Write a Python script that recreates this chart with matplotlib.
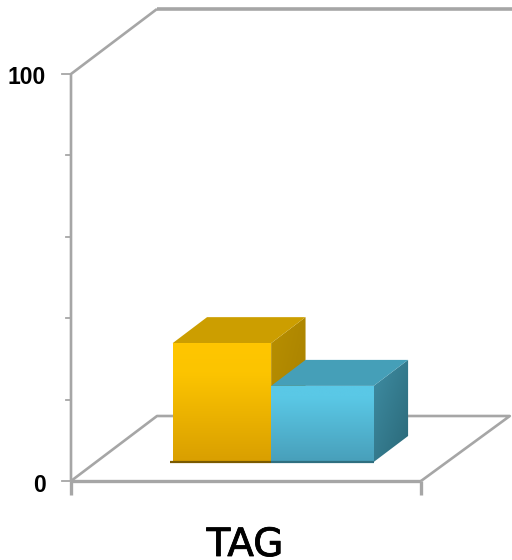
#!/usr/bin/env python3
"""Oblique 3D column chart for a single TAG category, two side by side columns."""

import matplotlib

matplotlib.use("Agg")
import matplotlib.patheffects as pe
import matplotlib.pyplot as plt
import numpy as np
from matplotlib.colors import to_rgb
from matplotlib.patches import Polygon

category = "TAG"
series_values = [29.2, 18.7]
y_tick_values = [0, 20, 40, 60, 80, 100]
y_tick_labels = {0: "0", 100: "100"}

GRID = "#a6a6a6"
PX_W, PX_H = 512, 560

# one x unit is the chart width, one y unit is one percent
X0, X_UNIT = 71, 350
Y0, Y_UNIT = 481, 4.07
DEPTH_X = 86 / X_UNIT
DEPTH_Y = 65 / Y_UNIT


def project(x, v, d=0.0):
    """Oblique projection: depth d shifts a point up and to the right."""
    return x + d * DEPTH_X, v + d * DEPTH_Y


def gradient_face(ax, corners, stops, angle=90):
    """Fill a polygon with a linear gradient, clipped to the polygon."""
    pts = np.array(corners)
    xmin, ymin = pts.min(axis=0)
    xmax, ymax = pts.max(axis=0)
    yy, xx = np.mgrid[0:1:64j, 0:1:64j]
    t = {90: yy, 45: (yy + (1 - xx)) / 2}[angle]
    pos = [s[0] for s in stops]
    rgb = np.array([to_rgb(s[1]) for s in stops])
    img = np.stack([np.interp(t, pos, rgb[:, i]) for i in range(3)], axis=-1)
    im = ax.imshow(img, origin="lower", extent=(xmin, xmax, ymin, ymax),
                   aspect="auto", zorder=4, interpolation="bilinear")
    patch = Polygon(corners, closed=True, fc="none", ec="none", transform=ax.transData)
    ax.add_patch(patch)
    im.set_clip_path(patch)


def draw_bar(ax, x0, x1, value, d0, d1, colors, lip=0.0):
    front_stops, top_c, side_stops, base = colors
    front = [project(x0, 0, d0), project(x1, 0, d0), project(x1, value, d0), project(x0, value, d0)]
    side = [project(x1, 0, d0), project(x1, 0, d1), project(x1, value, d1), project(x1, value, d0)]
    top = [project(x0, value, d0), project(x1, value, d0), project(x1, value, d1), project(x0, value, d1)]
    gradient_face(ax, side, side_stops, angle=45)
    ax.add_patch(Polygon(top, closed=True, fc=top_c, ec="none", zorder=4))
    gradient_face(ax, front, front_stops)
    ax.plot([front[0][0] - lip, front[1][0]], [front[0][1], front[1][1]], color=base,
            lw=1.6, solid_capstyle="butt", zorder=5)


fig = plt.figure(figsize=(PX_W / 100, PX_H / 100), dpi=100)
ax = fig.add_axes([0, 0, 1, 1])
ax.axis("off")

# walls and floor outline
line = dict(color=GRID, solid_capstyle="butt", solid_joinstyle="round", zorder=2)
ax.plot(*zip(project(0, 100, 1), project(0, 100), project(0, 0)), lw=1.9, **line)
ax.plot(*zip(project(0, 0), project(0, 0, 1), project(1.008, 0, 1), project(1, 0)), lw=1.9, **line)
ax.plot(*zip(project(0, 100, 1), (1.35, project(0, 100, 1)[1])), lw=2.6, **line)
ax.plot(*zip(project(0, 0), project(1, 0)), lw=2.4, **line)

# value axis ticks and labels
for v in y_tick_values:
    length = 9 / X_UNIT if v in y_tick_labels else 5 / X_UNIT
    ax.plot([-length, 0], [v, v], color=GRID, lw=1.3, zorder=2)
    if v in y_tick_labels:
        ax.text(-25 / X_UNIT, v - 4 / Y_UNIT, y_tick_labels[v], ha="right", va="center",
                fontsize=16.5, family="Liberation Sans", fontweight="bold", color="black")

# category axis ticks
for x in (0, 1):
    ax.plot([x, x], [0, -14 / Y_UNIT], color=GRID, lw=2.4, solid_capstyle="butt", zorder=2)

# columns, left one first: the right column's top hides the lower part of its side
bar_front_depth = 19 / 65
bar_back_depth = bar_front_depth + 26 / 65
orange = ([(0, "#d99f00"), (0.75, "#fcc400"), (1, "#ffc600")], "#cc9e00",
          [(0, "#a67f00"), (1, "#b88f00")], "#7a5a00")
blue = ([(0, "#489fba"), (0.85, "#5ac8e6"), (1, "#5ac8e6")], "#459fb8",
        [(0, "#2a6878"), (1, "#3f8da3")], "#2f6f80")
draw_bar(ax, 0.2186, 0.5, series_values[0], bar_front_depth, bar_back_depth, orange, lip=3 / X_UNIT)
draw_bar(ax, 0.5, 0.793, series_values[1], bar_front_depth, bar_back_depth, blue)

ax.set_xlim(-X0 / X_UNIT, (PX_W - X0) / X_UNIT)
ax.set_ylim(-(PX_H - Y0) / Y_UNIT, Y0 / Y_UNIT)

ax.text((245 - X0) / X_UNIT, -(556 - Y0) / Y_UNIT, category, ha="center", va="baseline",
        fontsize=28, family="DejaVu Sans", color="black",
        path_effects=[pe.withStroke(linewidth=0.6, foreground="black")])

fig.savefig("out.png", dpi=100)
